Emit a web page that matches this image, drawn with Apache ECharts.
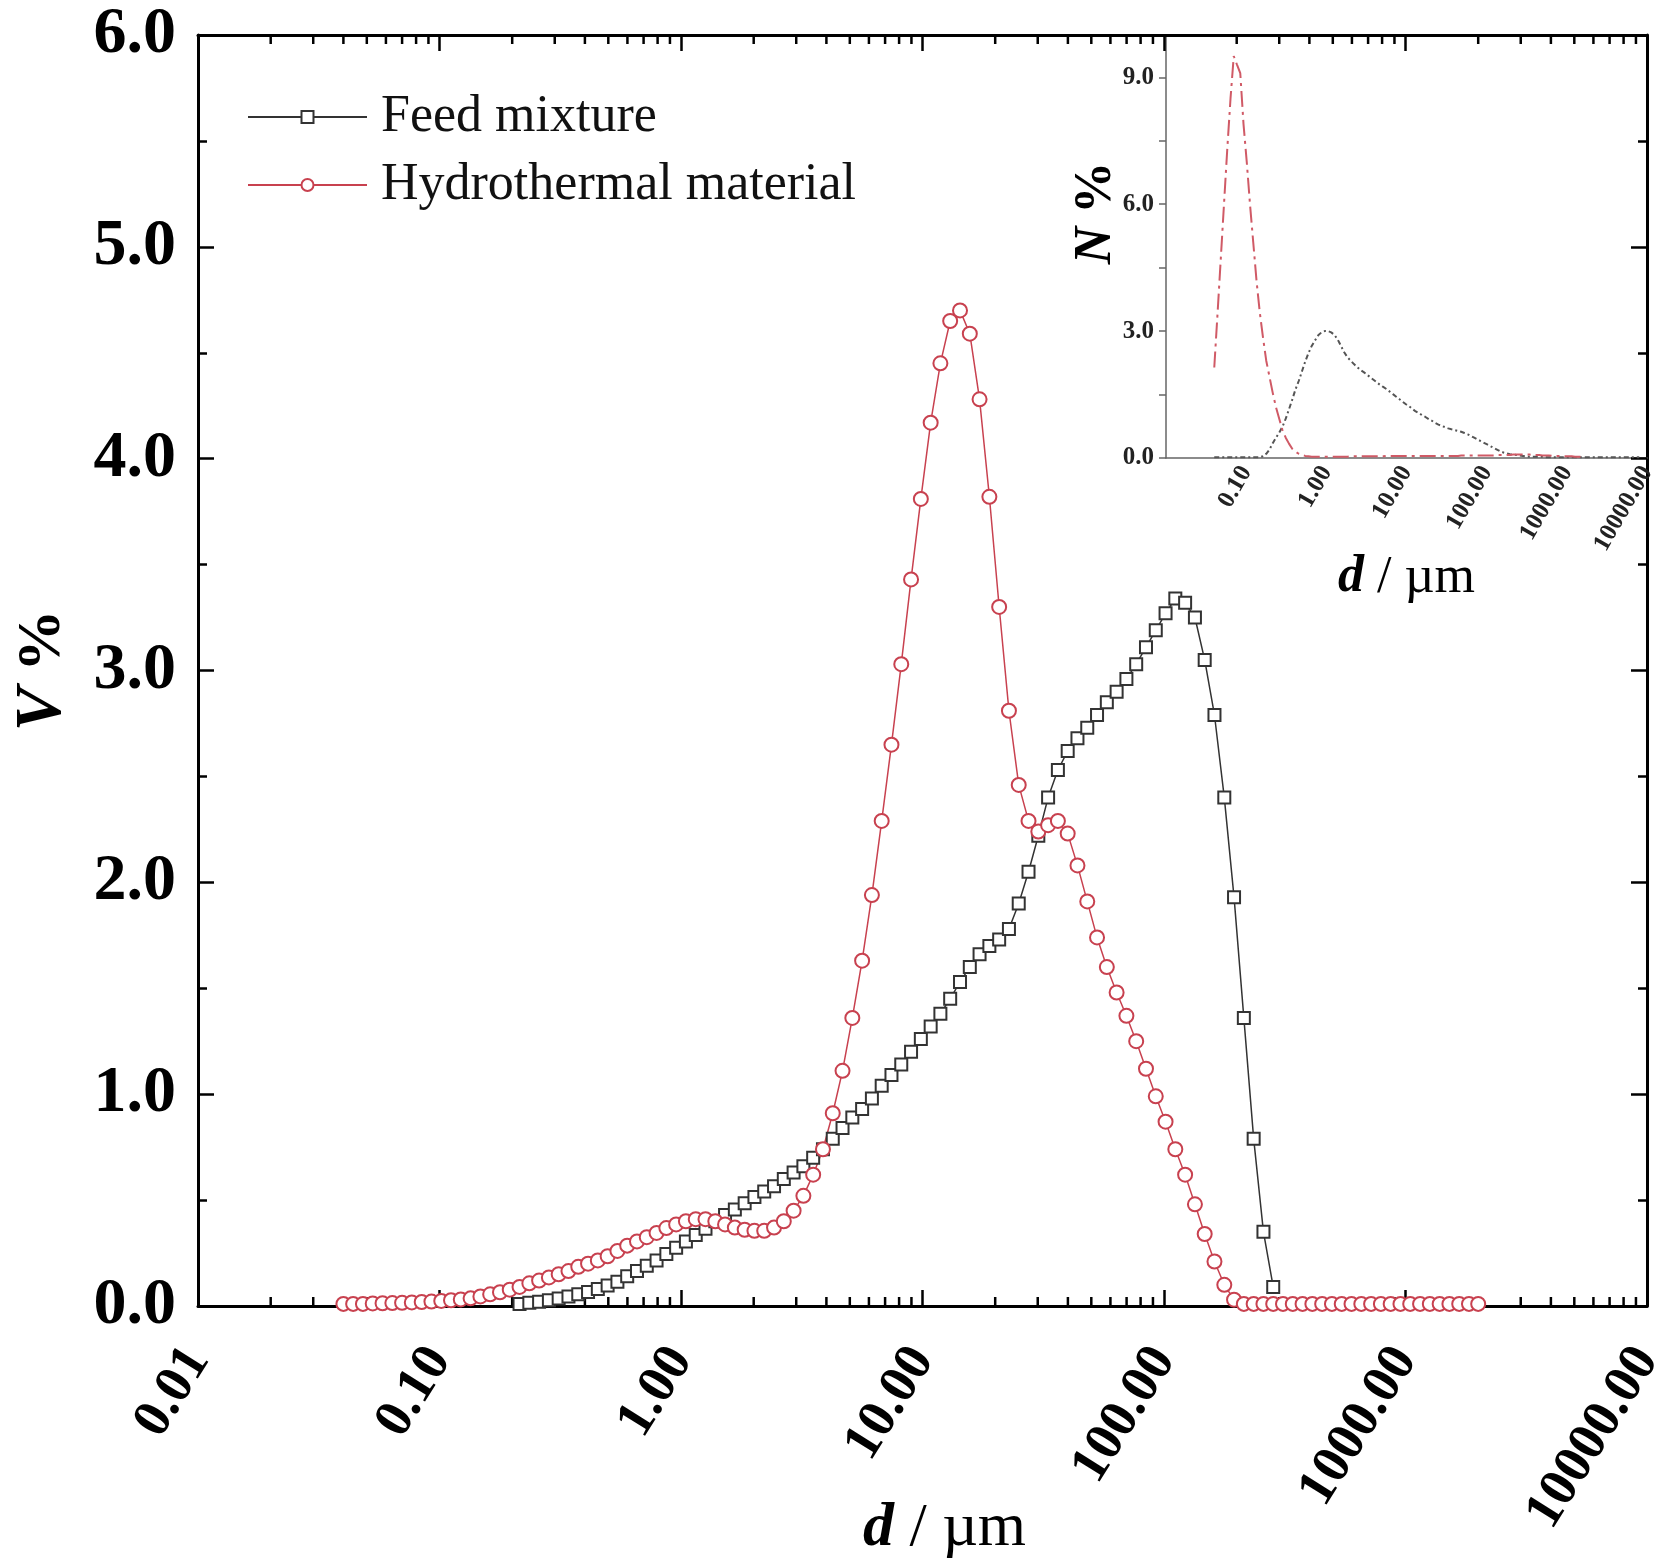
<!DOCTYPE html>
<html><head><meta charset="utf-8">
<script src="https://cdn.jsdelivr.net/npm/echarts@6/dist/echarts.min.js"></script>
<style>html,body{margin:0;padding:0;background:#fff}#c{width:1663px;height:1565px}</style>
</head><body><div id="c"></div>
<script>
// Particle size classes (µm), laser-diffraction channels 0.04 – 2000 µm
const sizes = [
  0.0400, 0.0439, 0.0482, 0.0529, 0.0581, 0.0638, 0.0700, 0.0768, 0.0844, 0.0926,
  0.1017, 0.1116, 0.1225, 0.1345, 0.1477, 0.1621, 0.1780, 0.1954, 0.2145, 0.2355,
  0.2585, 0.2838, 0.3115, 0.3420, 0.3755, 0.4122, 0.4525, 0.4968, 0.5454, 0.5987,
  0.6573, 0.7216, 0.7922, 0.8697, 0.9547, 1.048, 1.151, 1.263, 1.387, 1.522,
  1.671, 1.835, 2.014, 2.211, 2.428, 2.665, 2.926, 3.212, 3.526, 3.871,
  4.250, 4.665, 5.122, 5.623, 6.173, 6.777, 7.439, 8.167, 8.966, 9.843,
  10.81, 11.86, 13.02, 14.30, 15.70, 17.23, 18.92, 20.77, 22.80, 25.03,
  27.48, 30.17, 33.12, 36.36, 39.92, 43.82, 48.11, 52.81, 57.98, 63.65,
  69.88, 76.71, 84.22, 92.45, 101.5, 111.4, 122.3, 134.3, 147.4, 161.8,
  177.7, 195.0, 214.1, 235.1, 258.1, 283.3, 311.0, 341.4, 374.8, 411.5,
  451.8, 496.0, 544.5, 597.7, 656.2, 720.4, 790.9, 868.2, 953.1, 1046,
  1149, 1261, 1385, 1520, 1669, 1832, 2000
];

// Volume distribution V% — Feed mixture
const feedV = [
  null, null, null, null, null, null, null, null, null, null,
  null, null, null, null, null, null, null, null, 0.01, 0.015,
  0.02, 0.027, 0.035, 0.045, 0.055, 0.066, 0.08, 0.097, 0.115, 0.14,
  0.165, 0.19, 0.215, 0.245, 0.275, 0.305, 0.335, 0.365, 0.40, 0.43,
  0.455, 0.485, 0.515, 0.54, 0.565, 0.60, 0.63, 0.66, 0.70, 0.74,
  0.79, 0.84, 0.89, 0.93, 0.98, 1.04, 1.09, 1.14, 1.20, 1.26,
  1.32, 1.38, 1.45, 1.53, 1.60, 1.66, 1.70, 1.73, 1.78, 1.90,
  2.05, 2.22, 2.40, 2.53, 2.62, 2.68, 2.73, 2.79, 2.85, 2.90,
  2.96, 3.03, 3.11, 3.19, 3.27, 3.34, 3.32, 3.25, 3.05, 2.79,
  2.40, 1.93, 1.36, 0.79, 0.35, 0.09, null, null, null, null,
  null, null, null, null, null, null, null, null, null, null,
  null, null, null, null, null, null, null
];

// Volume distribution V% — Hydrothermal material
const hydroV = [
  0.01, 0.01, 0.01, 0.012, 0.013, 0.014, 0.015, 0.017, 0.019, 0.021,
  0.024, 0.027, 0.031, 0.036, 0.045, 0.055, 0.065, 0.077, 0.09, 0.107,
  0.12, 0.135, 0.15, 0.165, 0.185, 0.20, 0.215, 0.235, 0.26, 0.285,
  0.305, 0.325, 0.345, 0.368, 0.385, 0.40, 0.41, 0.41, 0.40, 0.385,
  0.37, 0.36, 0.355, 0.355, 0.37, 0.40, 0.45, 0.52, 0.62, 0.74,
  0.91, 1.11, 1.36, 1.63, 1.94, 2.29, 2.65, 3.03, 3.43, 3.81,
  4.17, 4.45, 4.65, 4.70, 4.59, 4.28, 3.82, 3.30, 2.81, 2.46,
  2.29, 2.24, 2.27, 2.29, 2.23, 2.08, 1.91, 1.74, 1.60, 1.48,
  1.37, 1.25, 1.12, 0.99, 0.87, 0.74, 0.62, 0.48, 0.34, 0.21,
  0.10, 0.03, 0.01, 0.01, 0.01, 0.01, 0.01, 0.01, 0.01, 0.01,
  0.01, 0.01, 0.01, 0.01, 0.01, 0.01, 0.01, 0.01, 0.01, 0.01,
  0.01, 0.01, 0.01, 0.01, 0.01, 0.01, 0.01
];

// Number distribution N% (inset) — Feed mixture
const feedN = [
  0.02, 0.02, 0.02, 0.02, 0.02, 0.02, 0.02, 0.02, 0.02, 0.02,
  0.02, 0.02, 0.02, 0.02, 0.02, 0.04, 0.10, 0.20, 0.35, 0.48,
  0.60, 0.74, 0.93, 1.15, 1.38, 1.62, 1.82, 2.05, 2.28, 2.48,
  2.65, 2.78, 2.90, 2.97, 3.00, 3.00, 2.97, 2.91, 2.80, 2.65,
  2.50, 2.38, 2.30, 2.22, 2.15, 2.08, 2.03, 1.97, 1.91, 1.85,
  1.79, 1.73, 1.68, 1.63, 1.57, 1.51, 1.45, 1.39, 1.33, 1.27,
  1.22, 1.16, 1.10, 1.06, 1.01, 0.97, 0.92, 0.88, 0.83, 0.79,
  0.76, 0.73, 0.70, 0.68, 0.66, 0.64, 0.62, 0.59, 0.56, 0.52,
  0.48, 0.44, 0.40, 0.36, 0.32, 0.28, 0.24, 0.20, 0.16, 0.13,
  0.11, 0.09, 0.08, 0.07, 0.06, 0.05, 0.04, 0.03, 0.03, 0.03,
  0.03, 0.03, 0.02, 0.02, 0.02, 0.02, 0.02, 0.02, 0.02, 0.02,
  0.02, 0.02, 0.02, 0.02, 0.02, 0.02, 0.02
];
const feedNTailSizes = [3000, 5000, 8000];
const feedNTail = [0.02, 0.02, 0.02];

// Number distribution N% (inset) — Hydrothermal material
const hydroN = [
  2.14, 3.4, 4.7, 6.0, 7.3, 8.5, 9.5, 9.3, 9.1, 7.9,
  7.0, 6.0, 5.1, 4.2, 3.45, 2.85, 2.3, 1.92, 1.54, 1.2,
  0.93, 0.66, 0.48, 0.34, 0.22, 0.15, 0.10, 0.07, 0.05, 0.04,
  0.03, 0.03, 0.03, 0.03, 0.03, 0.03, 0.03, 0.03, 0.03, 0.03,
  0.03, 0.03, 0.04, 0.04, 0.04, 0.04, 0.04, 0.04, 0.04, 0.04,
  0.04, 0.04, 0.04, 0.05, 0.05, 0.05, 0.05, 0.05, 0.05, 0.05,
  0.05, 0.05, 0.05, 0.05, 0.05, 0.05, 0.05, 0.05, 0.05, 0.05,
  0.05, 0.05, 0.05, 0.05, 0.05, 0.05, 0.06, 0.06, 0.06, 0.06,
  0.06, 0.06, 0.06, 0.06, 0.06, 0.06, 0.06, 0.07, 0.07, 0.07,
  0.07, 0.07, 0.08, 0.08, 0.08, 0.08, 0.08, 0.08, 0.07, 0.07,
  0.07, 0.06, 0.06, 0.06, 0.05, 0.05, 0.05, 0.05, 0.04, 0.04,
  0.04, 0.03, 0.03, 0.03, null, null, null
];

// Tick labels
const xTickLabels = ['0.01', '0.10', '1.00', '10.00', '100.00', '1000.00', '10000.00'];
const insetXTickLabels = ['', '0.10', '1.00', '10.00', '100.00', '1000.00', '10000.00'];
const yTickLabels = ['0.0', '1.0', '2.0', '3.0', '4.0', '5.0', '6.0'];
const insetYTickValues = [0, 3, 6, 9];
const insetYTickLabels = ['0.0', '3.0', '6.0', '9.0'];
const insetYTickMarks = [0, 1.5, 3, 4.5, 6, 7.5, 9];
const decades = [0.01, 0.1, 1, 10, 100, 1000];
const minorMultipliers = [2, 3, 4, 5, 6, 7, 8, 9];

const FONT = 'Liberation Serif';
const RED = '#c8414f';
const pair = (xs, ys) => xs.map((x, i) => [x, ys[i]]).filter(d => d[1] != null);
const feedData = pair(sizes, feedV);
const hydroData = pair(sizes, hydroV);
const feedNData = pair(sizes, feedN).concat(pair(feedNTailSizes, feedNTail));
const hydroNData = pair(sizes, hydroN);
const minorTickData = [];
decades.forEach(d => minorMultipliers.forEach(m => minorTickData.push([d * m, 0])));

const decadeIndex = v => Math.round(Math.log10(v)) + 2;

const mainAxisLine = { show: true, onZero: false, lineStyle: { color: '#000', width: 3 } };
const mainTick = { show: true, inside: true, length: 16, lineStyle: { color: '#000', width: 2.5 } };
const insetLine = { show: true, onZero: false, lineStyle: { color: '#666', width: 1.5 } };

const chart = echarts.init(document.getElementById('c'), null, { renderer: 'canvas' });
chart.setOption({
  animation: false,
  backgroundColor: '#fff',
  textStyle: { fontFamily: FONT },
  grid: [
    { left: 198, right: 16, top: 35, bottom: 259, outerBoundsMode: 'none' },
    { left: 1166, right: 16, top: 35, bottom: 1107, outerBoundsMode: 'none' }
  ],
  legend: {
    data: ['Feed mixture', 'Hydrothermal material'],
    orient: 'vertical', left: 247, top: 89, padding: 0,
    itemWidth: 119, itemHeight: 15, itemGap: 12,
    selectedMode: false,
    textStyle: { fontSize: 52, fontFamily: FONT, color: '#111', lineHeight: 56, padding: [0, 0, 0, 9] }
  },
  xAxis: [
    {
      gridIndex: 0, type: 'log', logBase: 10, min: 0.01, max: 10000, splitNumber: 6,
      position: 'bottom',
      axisLine: mainAxisLine, axisTick: mainTick, splitLine: { show: false },
      axisLabel: {
        rotate: 58, margin: 46, fontSize: 54, fontWeight: 'bold', color: '#000', fontFamily: FONT,
        showMinLabel: true, showMaxLabel: true,
        formatter: v => xTickLabels[decadeIndex(v)]
      },
      name: '{i|d} / µm', nameLocation: 'middle', nameGap: 192, nameMoveOverlap: false,
      nameTextStyle: {
        fontSize: 62, fontFamily: FONT, color: '#000', padding: [0, 0, 0, 44],
        rich: { i: { fontSize: 62, fontFamily: FONT, fontStyle: 'italic', fontWeight: 'bold', color: '#000' } }
      }
    },
    {
      gridIndex: 0, type: 'log', logBase: 10, min: 0.01, max: 10000, splitNumber: 6,
      position: 'top',
      axisLine: mainAxisLine, axisTick: mainTick, splitLine: { show: false },
      axisLabel: { show: false }
    },
    {
      gridIndex: 1, type: 'log', logBase: 10, min: 0.01, max: 10000, splitNumber: 6,
      position: 'bottom',
      axisLine: insetLine, axisTick: { show: false }, splitLine: { show: false },
      axisLabel: {
        rotate: 60, margin: 10, fontSize: 25, fontWeight: 'bold', color: '#222', fontFamily: FONT,
        showMinLabel: true, showMaxLabel: true,
        formatter: v => insetXTickLabels[decadeIndex(v)]
      },
      name: '{i|d} / µm', nameLocation: 'middle', nameGap: 94, nameMoveOverlap: false,
      nameTextStyle: {
        fontSize: 52, fontFamily: FONT, color: '#000',
        rich: { i: { fontSize: 52, fontFamily: FONT, fontStyle: 'italic', fontWeight: 'bold', color: '#000' } }
      }
    }
  ],
  yAxis: [
    {
      gridIndex: 0, type: 'value', min: 0, max: 6, interval: 1, position: 'left',
      axisLine: mainAxisLine, axisTick: mainTick, splitLine: { show: false },
      minorTick: { show: true, splitNumber: 2, length: 9, lineStyle: { color: '#000', width: 2.5 } },
      axisLabel: {
        margin: 22, fontSize: 66, fontWeight: 'bold', color: '#000', fontFamily: FONT,
        formatter: v => yTickLabels[Math.round(v)]
      },
      name: '{i|V} %', nameLocation: 'middle', nameGap: 122, nameRotate: 90, nameMoveOverlap: false,
      nameTextStyle: {
        fontSize: 62, fontFamily: FONT, fontWeight: 'bold', color: '#000',
        rich: { i: { fontSize: 66, fontFamily: FONT, fontStyle: 'italic', fontWeight: 'bold', color: '#000' } }
      }
    },
    {
      gridIndex: 0, type: 'value', min: 0, max: 6, interval: 1, position: 'right',
      axisLine: mainAxisLine, axisTick: mainTick, splitLine: { show: false },
      minorTick: { show: true, splitNumber: 2, length: 9, lineStyle: { color: '#000', width: 2.5 } },
      axisLabel: { show: false }
    },
    {
      gridIndex: 1, type: 'value', min: 0, max: 10, position: 'left',
      axisLine: insetLine, splitLine: { show: false },
      axisTick: { show: true, inside: false, length: 7, customValues: insetYTickMarks, lineStyle: { color: '#666', width: 1.5 } },
      axisLabel: {
        customValues: insetYTickValues, margin: 12, fontSize: 25, fontWeight: 'bold', color: '#222', fontFamily: FONT,
        formatter: v => insetYTickLabels[insetYTickValues.indexOf(Math.round(v))]
      }
    }
  ],
  series: [
    {
      name: 'Feed mixture', type: 'line', xAxisIndex: 0, yAxisIndex: 0,
      data: feedData, symbol: 'emptyRect', symbolSize: 12, color: '#333',
      itemStyle: { color: '#333', borderWidth: 1.7 },
      lineStyle: { color: '#333', width: 1.5 }, emphasis: { disabled: true }
    },
    {
      name: 'Hydrothermal material', type: 'line', xAxisIndex: 0, yAxisIndex: 0,
      data: hydroData, symbol: 'emptyCircle', symbolSize: 14, color: RED,
      itemStyle: { color: RED, borderWidth: 1.7 },
      lineStyle: { color: RED, width: 1.5 }, emphasis: { disabled: true }
    },
    {
      name: 'Feed mixture (N)', type: 'line', xAxisIndex: 2, yAxisIndex: 2,
      data: feedNData, showSymbol: false, symbol: 'none',
      lineStyle: { color: '#555', width: 2, type: [5, 3, 2, 3] }, emphasis: { disabled: true }
    },
    {
      name: 'Hydrothermal material (N)', type: 'line', xAxisIndex: 2, yAxisIndex: 2,
      data: hydroNData, showSymbol: false, symbol: 'none',
      lineStyle: { color: '#d05a66', width: 2, type: [16, 5, 3, 5] }, emphasis: { disabled: true }
    },
    {
      name: 'minor ticks', type: 'custom', xAxisIndex: 0, yAxisIndex: 0,
      data: minorTickData, silent: true, clip: false,
      encode: { x: 0, y: 1 },
      renderItem: (params, api) => {
        const x = api.value(0);
        const b = api.coord([x, 0]);
        const t = api.coord([x, 6]);
        const st = { stroke: '#000', lineWidth: 2.5 };
        return {
          type: 'group', children: [
            { type: 'line', shape: { x1: b[0], y1: b[1], x2: b[0], y2: b[1] - 9 }, style: st },
            { type: 'line', shape: { x1: t[0], y1: t[1], x2: t[0], y2: t[1] + 9 }, style: st }
          ]
        };
      }
    }
  ],
  graphic: [
    {
      type: 'text', x: 1097, y: 213, rotation: Math.PI / 2, z: 10,
      style: {
        text: '{i|N} %', fontSize: 52, fontFamily: FONT, fontWeight: 'bold', fill: '#000',
        align: 'center', verticalAlign: 'middle',
        rich: { i: { fontSize: 52, fontFamily: FONT, fontStyle: 'italic', fontWeight: 'bold', fill: '#000' } }
      }
    }
  ]
});
</script>
</body></html>
